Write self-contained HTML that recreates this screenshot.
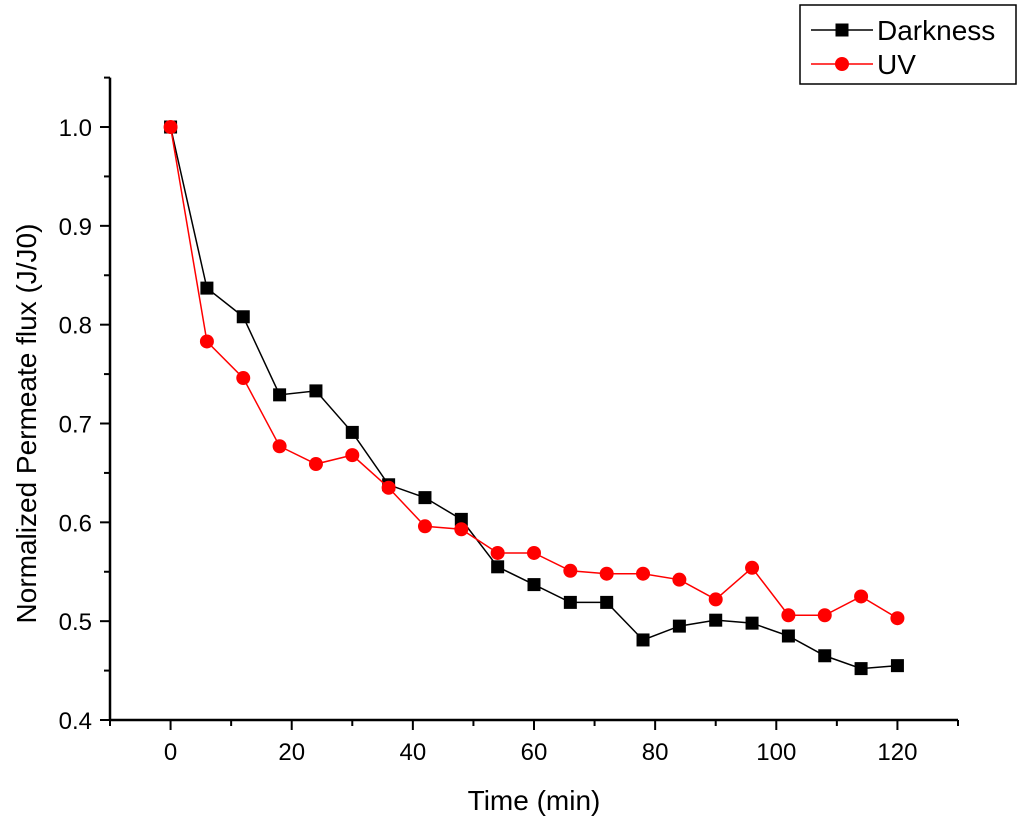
<!DOCTYPE html>
<html><head><meta charset="utf-8"><style>
body{margin:0;background:#fff;}
svg{display:block;font-family:"Liberation Sans",Arial,sans-serif;}
</style></head><body>
<svg id="chart" width="1024" height="828" viewBox="0 0 1024 828"></svg>
<script>
const times=[0,6,12,18,24,30,36,42,48,54,60,66,72,78,84,90,96,102,108,114,120];
const darkness=[1.0,0.837,0.808,0.729,0.733,0.691,0.638,0.625,0.603,0.555,0.537,0.519,0.519,0.481,0.495,0.501,0.498,0.485,0.465,0.452,0.455];
const uv=[1.0,0.783,0.746,0.677,0.659,0.668,0.635,0.596,0.593,0.569,0.569,0.551,0.548,0.548,0.542,0.522,0.554,0.506,0.506,0.525,0.503];
const xTicks=[0,20,40,60,80,100,120];
const yTicks=[0.4,0.5,0.6,0.7,0.8,0.9,1.0];

const NS="http://www.w3.org/2000/svg";
const svg=document.getElementById('chart');
const X0=110,X1=958,Y0=720,Y1=77.6;
const xMin=-10,xMax=130,yMin=0.4,yMax=1.05;
const sx=v=>X0+(v-xMin)/(xMax-xMin)*(X1-X0);
const sy=v=>Y0-(v-yMin)/(yMax-yMin)*(Y0-Y1);
function mk(tag,attrs,parent){const e=document.createElementNS(NS,tag);for(const k in attrs)e.setAttribute(k,attrs[k]);(parent||svg).appendChild(e);return e;}

const axes=mk('g',{});


mk('line',{x1:X0,y1:Y0,x2:X1,y2:Y0,stroke:'#000','stroke-width':2.5},axes);
mk('line',{x1:X0,y1:Y0,x2:X0,y2:Y1,stroke:'#000','stroke-width':2.5},axes);
for(let v=-10;v<=130;v+=10){
  const major=(v%20===0);
  mk('line',{x1:sx(v),y1:Y0,x2:sx(v),y2:Y0+(major?10:6),stroke:'#000','stroke-width':2},axes);
}
xTicks.forEach(v=>{
  const t=mk('text',{x:sx(v),y:Y0+40,'text-anchor':'middle','font-size':24},axes);
  t.textContent=v;
  
  
});
for(let i=0;i<=13;i++){
  const v=0.4+i*0.05;const major=(i%2===0);
  mk('line',{x1:X0,y1:sy(v),x2:X0-(major?10:6),y2:sy(v),stroke:'#000','stroke-width':2},axes);
}
yTicks.forEach(v=>{
  const t=mk('text',{x:X0-18,y:sy(v)+9,'text-anchor':'end','font-size':24},axes);
  t.textContent=v.toFixed(1);
  
  
});
const xt=mk('text',{x:sx(60),y:810,'text-anchor':'middle','font-size':28});
xt.textContent='Time (min)';


const yt=mk('text',{x:0,y:0,'text-anchor':'middle','font-size':28,transform:'translate(36,'+sy(0.7)+') rotate(-90)'});
yt.textContent='Normalized Permeate flux (J/J0)';



function series(vals,color,shape,name){
  const g=mk('g',{});
  
  
  mk('polyline',{points:times.map((t,i)=>sx(t)+','+sy(vals[i])).join(' '),fill:'none',stroke:color,'stroke-width':1.5},g);
  times.forEach((t,i)=>{
    let m;
    if(shape==='sq')m=mk('rect',{x:sx(t)-6.5,y:sy(vals[i])-6.5,width:13,height:13,fill:color},g);
    else m=mk('circle',{cx:sx(t),cy:sy(vals[i]),r:7,fill:color},g);
    
    
  });
}
series(darkness,'#000','sq','darkness-series');
series(uv,'#ff0000','ci','uv-series');

const lg=mk('g',{});


mk('rect',{x:800,y:5,width:216,height:79,fill:'#fff',stroke:'#000','stroke-width':1.5},lg);
mk('line',{x1:811,y1:30,x2:873,y2:30,stroke:'#000','stroke-width':1.5},lg);
mk('rect',{x:835.5,y:23.5,width:13,height:13,fill:'#000'},lg);
const l1=mk('text',{x:877,y:40,'font-size':28},lg);l1.textContent='Darkness';


mk('line',{x1:811,y1:64,x2:873,y2:64,stroke:'#ff0000','stroke-width':1.5},lg);
mk('circle',{cx:842,cy:64,r:7,fill:'#ff0000'},lg);
const l2=mk('text',{x:877,y:74,'font-size':28},lg);l2.textContent='UV';


</script>
</body></html>
